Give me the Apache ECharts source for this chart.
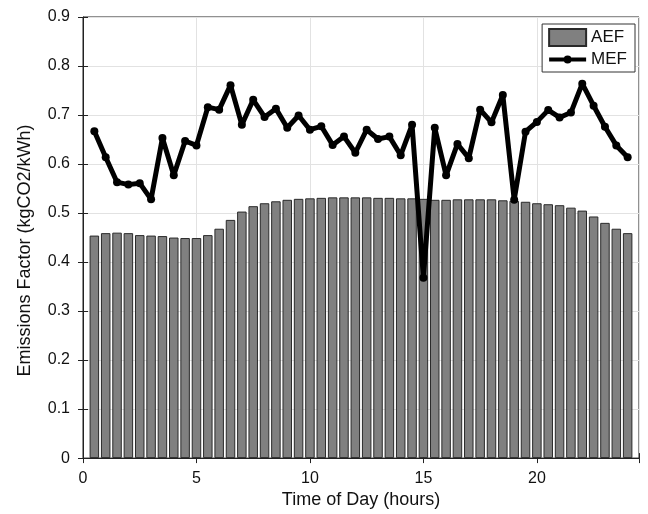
<!DOCTYPE html>
<html>
<head>
<meta charset="utf-8">
<script src="https://cdn.jsdelivr.net/npm/echarts@6/dist/echarts.min.js"></script>
<style>
html,body{margin:0;padding:0;background:#fff;}
#chart{width:648px;height:514px;}
</style>
</head>
<body>
<div id="chart"></div>
<script>
const hours = [0.5,1,1.5,2,2.5,3,3.5,4,4.5,5,5.5,6,6.5,7,7.5,8,8.5,9,9.5,10,10.5,11,11.5,12,12.5,13,13.5,14,14.5,15,15.5,16,16.5,17,17.5,18,18.5,19,19.5,20,20.5,21,21.5,22,22.5,23,23.5,24];
const aef = [0.454,0.459,0.460,0.459,0.455,0.454,0.453,0.450,0.449,0.449,0.455,0.468,0.486,0.503,0.514,0.520,0.524,0.527,0.529,0.530,0.531,0.532,0.532,0.532,0.532,0.531,0.531,0.530,0.530,0.529,0.527,0.527,0.528,0.528,0.528,0.528,0.526,0.525,0.523,0.520,0.518,0.516,0.511,0.505,0.493,0.480,0.468,0.459];
const mef = [0.667,0.614,0.563,0.558,0.561,0.528,0.653,0.577,0.647,0.638,0.716,0.711,0.761,0.680,0.731,0.696,0.713,0.674,0.699,0.670,0.677,0.639,0.656,0.623,0.670,0.651,0.656,0.618,0.680,0.368,0.674,0.577,0.641,0.612,0.711,0.685,0.741,0.527,0.666,0.686,0.710,0.695,0.705,0.764,0.719,0.676,0.638,0.614];
const xTicks = [0,5,10,15,20];
const yTicks = [0,0.1,0.2,0.3,0.4,0.5,0.6,0.7,0.8,0.9];

const font = '"Liberation Sans", Arial, sans-serif';
const chart = echarts.init(document.getElementById('chart'));
const axisLabel = {color:'#111', fontSize:16, fontFamily:font};
const mefIcon = 'path://M0,6.5 H37 V10.5 H0 Z M14.5,8.5 A4,4 0 1,1 22.5,8.5 A4,4 0 1,1 14.5,8.5 Z M0,0 L0.01,0 M0,17 L0.01,17';
chart.setOption({
  animation:false,
  backgroundColor:'#fff',
  grid:{left:83, right:9, top:17, bottom:53, show:true, borderColor:'#222', borderWidth:1, backgroundColor:'transparent'},
  legend:{
    right:13, top:24, orient:'vertical', backgroundColor:'#fff', borderColor:'#333', borderWidth:1,
    padding:[4,8,4,6], itemGap:4, itemWidth:37, itemHeight:17, symbolKeepAspect:true,
    textStyle:{fontSize:17, fontFamily:font, color:'#111'},
    data:[{name:'AEF', icon:'rect'},{name:'MEF', icon:mefIcon}]
  },
  xAxis:[{
    type:'value', min:0, max:24.5, interval:5,
    name:'Time of Day (hours)', nameLocation:'middle', nameGap:32,
    nameTextStyle:{fontSize:18, fontFamily:font, color:'#111'},
    axisLine:{show:true, lineStyle:{color:'#222'}},
    axisTick:{show:true, inside:true, length:5, lineStyle:{color:'#222'}},
    axisLabel:Object.assign({margin:12, formatter:v=>xTicks.includes(v)?String(v):''}, axisLabel),
    splitLine:{show:true, lineStyle:{color:'#e2e2e2', width:1}}
  },{
    type:'value', min:0, max:24.5, interval:5, position:'top',
    axisLine:{show:false}, axisTick:{show:true, inside:true, length:5, lineStyle:{color:'#222'}},
    axisLabel:{show:false}, splitLine:{show:false}
  }],
  yAxis:[{
    type:'value', min:0, max:0.9, interval:0.1,
    name:'Emissions Factor (kgCO2/kWh)', nameLocation:'middle', nameGap:49,
    nameTextStyle:{fontSize:18, fontFamily:font, color:'#111', padding:[0,26,0,0]},
    axisLine:{show:true, lineStyle:{color:'#222'}},
    axisTick:{show:true, inside:true, length:5, lineStyle:{color:'#222'}},
    axisLabel:Object.assign({margin:13, formatter:v=>{const t=yTicks.find(k=>Math.abs(k-v)<1e-9);return t===undefined?'':(t===0?'0':t.toFixed(1));}}, axisLabel),
    splitLine:{show:true, lineStyle:{color:'#e2e2e2', width:1}}
  },{
    type:'value', min:0, max:0.9, interval:0.1, position:'right',
    axisLine:{show:false}, axisTick:{show:true, inside:true, length:5, lineStyle:{color:'#222'}},
    axisLabel:{show:false}, splitLine:{show:false}
  }],
  series:[{
    name:'AEF', type:'bar', barWidth:9.5,
    itemStyle:{color:'#808080', borderColor:'#2a2a2a', borderWidth:1},
    data:hours.map((h,i)=>[h,aef[i]]), z:2
  },{
    name:'MEF', type:'line', symbol:'circle', symbolSize:8,
    lineStyle:{color:'#000', width:5}, itemStyle:{color:'#000'},
    data:hours.map((h,i)=>[h,mef[i]]), z:5
  }]
});
</script>
</body>
</html>
